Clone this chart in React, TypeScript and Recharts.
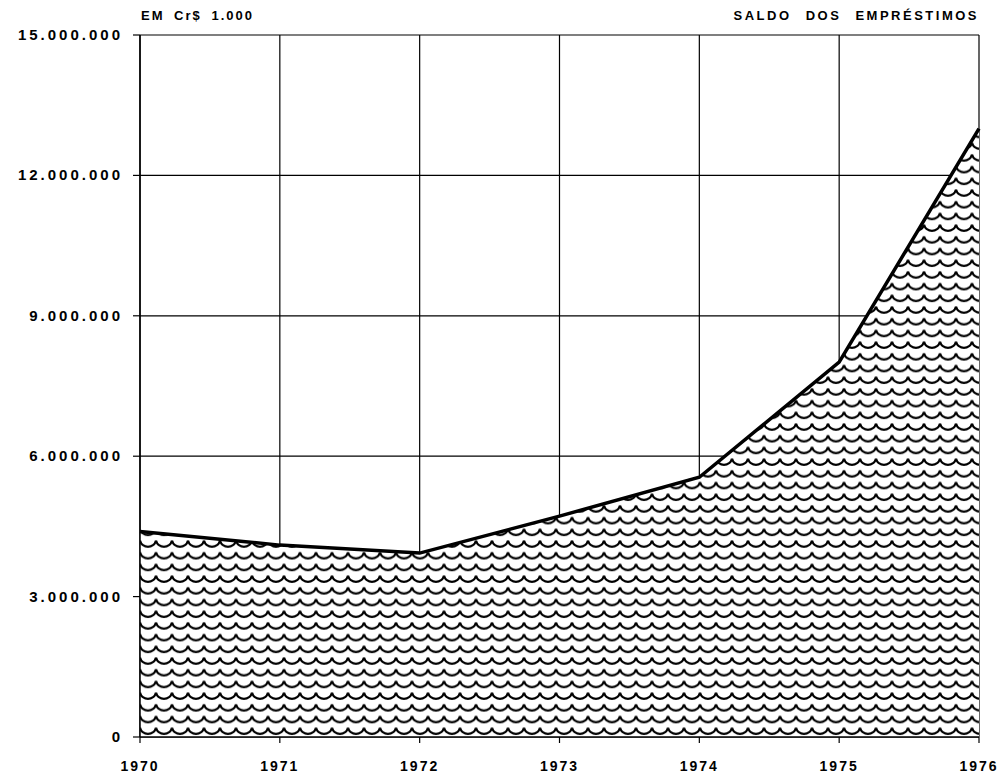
import { AreaChart, Area, XAxis, YAxis, CartesianGrid } from 'recharts';

const years = [1970, 1971, 1972, 1973, 1974, 1975, 1976];
const saldo = [4390000, 4100000, 3930000, 4720000, 5550000, 8010000, 13000000];
const yTicks = [0, 3000000, 6000000, 9000000, 12000000, 15000000];
const yTickLabels = ['0', '3.000.000', '6.000.000', '9.000.000', '12.000.000', '15.000.000'];

const data = years.map((ano, i) => ({ ano, saldo: saldo[i] }));

const fonte = '"Liberation Sans", Arial, sans-serif';

const YTick = ({ x, y, payload }: any) => {
    const idx = yTicks.indexOf(payload.value);
    return (
        <text x={x} y={y} dy={5} textAnchor="end" fontFamily={fonte} fontWeight="bold" fontSize={15} letterSpacing={3} fill="#000">
            {yTickLabels[idx]}
        </text>
    );
};

const XTick = ({ x, y, payload }: any) => (
    <text x={x} y={y} dy={12} textAnchor="middle" fontFamily={fonte} fontWeight="bold" fontSize={14} letterSpacing={2} fill="#000">
        {payload.value}
    </text>
);

export default function App() {
    return (
        <div style={{ position: 'absolute', left: 0, top: 0, width: 1007, height: 776, background: '#fff' }}>
            <AreaChart width={1007} height={776} data={data} margin={{ top: 35, right: 28, left: 10, bottom: 9 }}>
                <defs>
                    {/* escamas: fileiras de arcos como no original */}
                    <pattern id="escamas" patternUnits="userSpaceOnUse" x={140} y={35} width={16} height={11.7}>
                        <rect x={0} y={0} width={16} height={11.7} fill="#fff" />
                        <path d="M0,2.5 A8.3,8.3 0 0 0 16,2.5" fill="none" stroke="#000" strokeWidth={2.2} />
                    </pattern>
                </defs>
                <CartesianGrid stroke="#000" strokeWidth={1.2} />
                <XAxis
                    dataKey="ano"
                    type="number"
                    domain={[1970, 1976]}
                    ticks={years}
                    axisLine={{ stroke: '#000', strokeWidth: 1.5 }}
                    tickLine={{ stroke: '#000', strokeWidth: 1.2 }}
                    tickSize={6}
                    tickMargin={16}
                    height={30}
                    tick={<XTick />}
                />
                <YAxis
                    type="number"
                    domain={[0, 15000000]}
                    ticks={yTicks}
                    width={130}
                    axisLine={{ stroke: '#000', strokeWidth: 1.5 }}
                    tickLine={{ stroke: '#000', strokeWidth: 1.2 }}
                    tickSize={7}
                    tickMargin={10}
                    tick={<YTick />}
                />
                <Area
                    type="linear"
                    dataKey="saldo"
                    stroke="#000"
                    strokeWidth={3.5}
                    fill="url(#escamas)"
                    fillOpacity={1}
                    dot={false}
                    activeDot={false}
                    isAnimationActive={false}
                />
                <text x={141} y={20} fontFamily={fonte} fontWeight="bold" fontSize={13} letterSpacing={2} wordSpacing={4} fill="#000">
                    EM Cr$ 1.000
                </text>
                <text x={979} y={20} textAnchor="end" fontFamily={fonte} fontWeight="bold" fontSize={13} letterSpacing={2.5} wordSpacing={8} fill="#000">
                    SALDO DOS EMPRÉSTIMOS
                </text>
            </AreaChart>
        </div>
    );
}
